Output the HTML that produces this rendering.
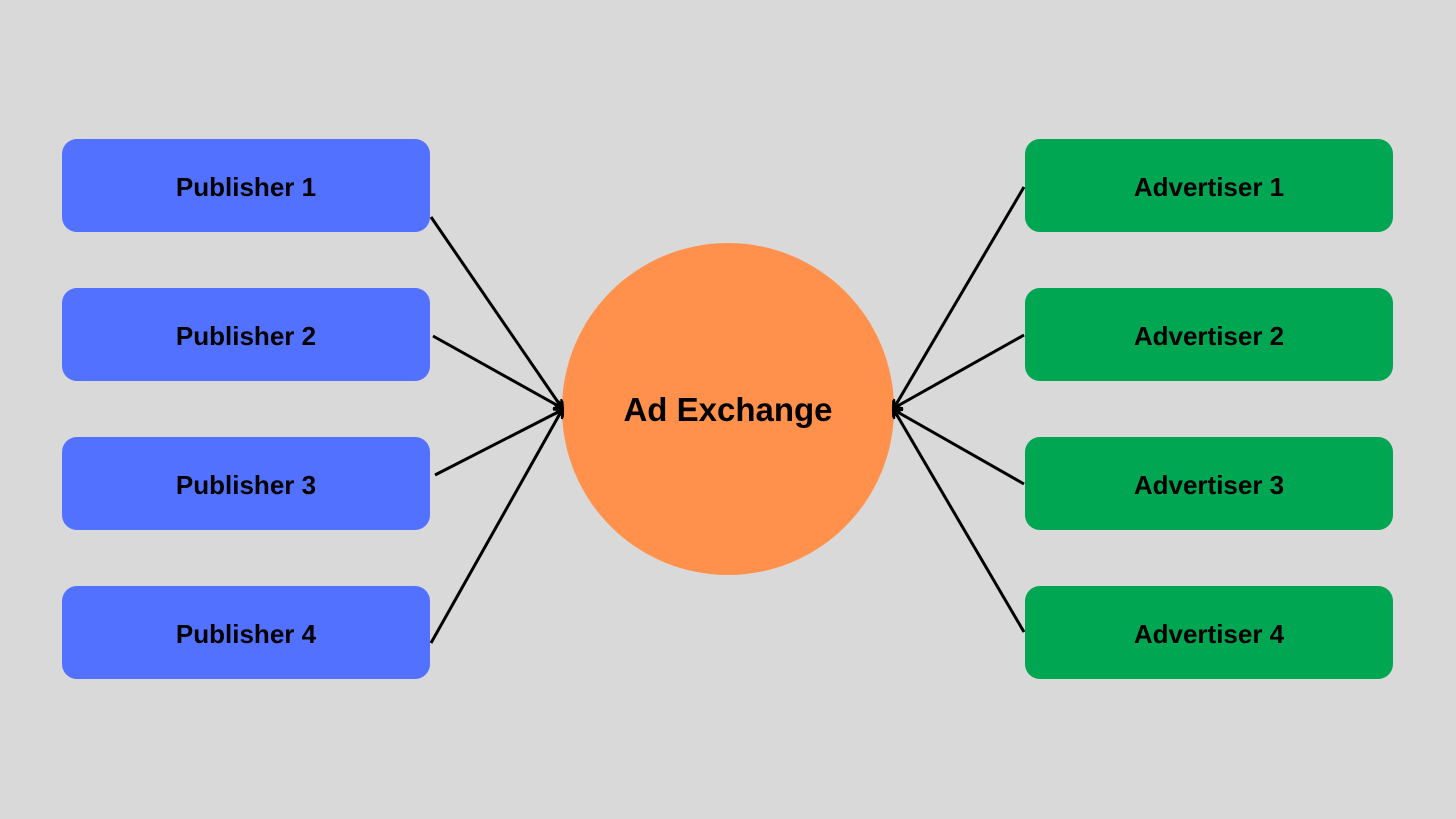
<!DOCTYPE html>
<html><head><style>
body{margin:0;width:1456px;height:819px;background:#d9d9d9;position:relative;overflow:hidden;font-family:"Liberation Sans",sans-serif;}
.b{position:absolute;width:368px;height:93px;border-radius:15px;display:flex;align-items:center;justify-content:center;font-weight:bold;font-size:26px;color:#000;box-sizing:border-box;padding-top:4px;}
.p{left:62px;background:#5271ff;}
.a{left:1025px;background:#00a651;}
.c{position:absolute;left:562px;top:243px;width:332px;height:332px;border-radius:50%;background:#ff914d;display:flex;align-items:center;justify-content:center;font-weight:bold;font-size:33px;box-sizing:border-box;padding-top:2px;}
svg{position:absolute;left:0;top:0}
</style></head><body>
<div class="b p" style="top:139px">Publisher 1</div>
<div class="b p" style="top:288px">Publisher 2</div>
<div class="b p" style="top:437px">Publisher 3</div>
<div class="b p" style="top:586px">Publisher 4</div>
<div class="b a" style="top:139px">Advertiser 1</div>
<div class="b a" style="top:288px">Advertiser 2</div>
<div class="b a" style="top:437px">Advertiser 3</div>
<div class="b a" style="top:586px">Advertiser 4</div>
<div class="c">Ad Exchange</div>
<svg width="1456" height="819">
<defs><marker id="m" markerWidth="10" markerHeight="10" refX="8" refY="5" orient="auto" markerUnits="userSpaceOnUse"><path d="M0,0 L9,5 L0,10" fill="none" stroke="#000" stroke-width="3"/></marker></defs>
<g stroke="#000" stroke-width="3" fill="none" marker-end="url(#m)">
<line x1="431" y1="217" x2="562" y2="408"/>
<line x1="433" y1="336" x2="562" y2="408"/>
<line x1="435" y1="475" x2="562" y2="410"/>
<line x1="431" y1="643" x2="562" y2="410"/>
<line x1="1024" y1="187" x2="894" y2="408"/>
<line x1="1024" y1="335" x2="894" y2="408"/>
<line x1="1024" y1="484" x2="894" y2="410"/>
<line x1="1024" y1="632" x2="894" y2="410"/>
</g></svg>
</body></html>
